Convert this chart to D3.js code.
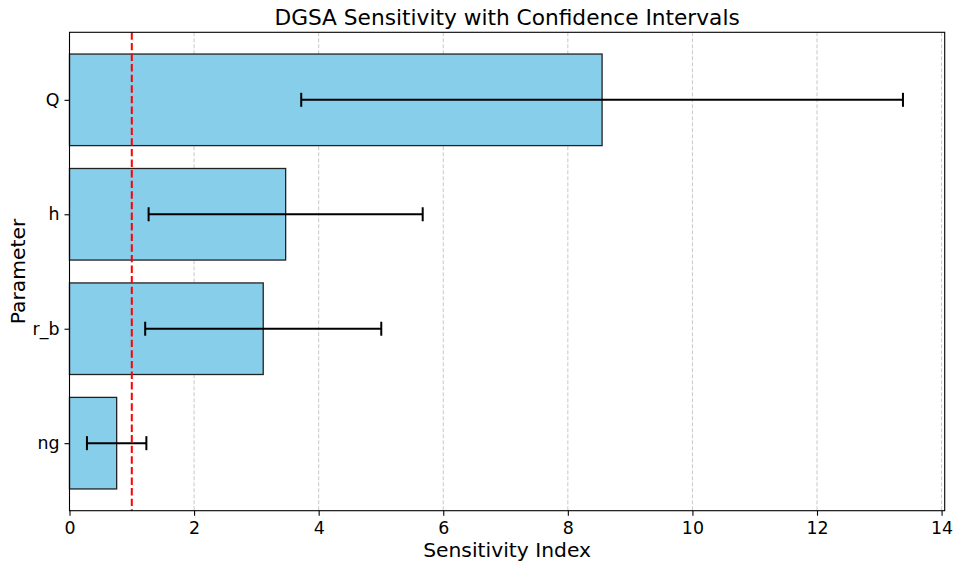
<!DOCTYPE html>
<html><head><meta charset="utf-8">
<script src="https://cdn.jsdelivr.net/npm/d3@7"></script>
<style>body{margin:0;background:#fff}svg{display:block;font-family:"DejaVu Sans",sans-serif}</style>
</head><body>
<svg id="c" width="955" height="566"></svg>
<script>
const parameters = ["ng", "r_b", "h", "Q"];
const sensitivity = [0.757, 3.11, 3.47, 8.55];
const ciHalfWidth = [0.477, 1.895, 2.20, 4.83];
const xTicks = [0, 2, 4, 6, 8, 10, 12, 14];
const threshold = 1;

const svg = d3.select("#c");
const L = 69.5, R = 944.7, T = 32.3, B = 510.7;
const x = d3.scaleLinear().domain([0, 14.05]).range([L, R]);
const y = d3.scaleLinear().domain([-0.59, 3.59]).range([B, T]);

// grid
svg.append("g").selectAll("line").data(xTicks).join("line")
  .attr("x1", d => x(d)).attr("x2", d => x(d)).attr("y1", T).attr("y2", B)
  .attr("stroke", "#b0b0b0").attr("stroke-opacity", 0.7).attr("stroke-width", 1)
  .attr("stroke-dasharray", "4,2");

// bars
const bh = y(0) - y(0.8);
svg.append("g").selectAll("rect").data(parameters).join("rect")
  .attr("x", x(0)).attr("y", (d, i) => y(i + 0.4))
  .attr("width", (d, i) => x(sensitivity[i]) - x(0)).attr("height", bh)
  .attr("fill", "#87ceeb").attr("stroke", "#222").attr("stroke-width", 1.3);

// error bars
const eg = svg.append("g").attr("stroke", "#000").attr("stroke-width", 2);
parameters.forEach((p, i) => {
  const lo = x(sensitivity[i] - ciHalfWidth[i]), hi = x(sensitivity[i] + ciHalfWidth[i]), cy = y(i);
  eg.append("line").attr("x1", lo).attr("x2", hi).attr("y1", cy).attr("y2", cy);
  eg.append("line").attr("x1", lo).attr("x2", lo).attr("y1", cy - 7).attr("y2", cy + 7);
  eg.append("line").attr("x1", hi).attr("x2", hi).attr("y1", cy - 7).attr("y2", cy + 7);
});

// threshold line
svg.append("line").attr("x1", x(threshold)).attr("x2", x(threshold)).attr("y1", T).attr("y2", B)
  .attr("stroke", "red").attr("stroke-width", 2).attr("stroke-dasharray", "7.4,3.2");

// axes
const xAxis = svg.append("g").attr("transform", `translate(0,${B})`)
  .call(d3.axisBottom(x).tickValues(xTicks).tickFormat(d3.format("d")).tickSize(5).tickPadding(5.5));
const yAxis = svg.append("g").attr("transform", `translate(${L},0)`)
  .call(d3.axisLeft(y).tickValues(d3.range(parameters.length)).tickFormat(i => parameters[i]).tickSize(5).tickPadding(5));
[xAxis, yAxis].forEach(a => {
  a.attr("font-size", null).attr("font-family", null);
  a.select(".domain").remove();
  a.selectAll("text").style("font-size", "17.4px").attr("fill", "#000").style("font-family", "DejaVu Sans");
  a.selectAll("line").attr("stroke", "#000").attr("stroke-width", 1.1);
});
// frame
svg.append("rect").attr("x", L).attr("y", T).attr("width", R - L).attr("height", B - T)
  .attr("fill", "none").attr("stroke", "#000").attr("stroke-width", 1.1);

// labels
svg.append("text").attr("x", (L + R) / 2).attr("y", 24.5).attr("text-anchor", "middle")
  .style("font-size", "21.7px").text("DGSA Sensitivity with Confidence Intervals");
svg.append("text").attr("x", (L + R) / 2).attr("y", 557).attr("text-anchor", "middle")
  .style("font-size", "20.3px").text("Sensitivity Index");
svg.append("text").attr("transform", `translate(25,${(T + B) / 2}) rotate(-90)`).attr("text-anchor", "middle")
  .style("font-size", "20.3px").text("Parameter");
</script>
</body></html>
